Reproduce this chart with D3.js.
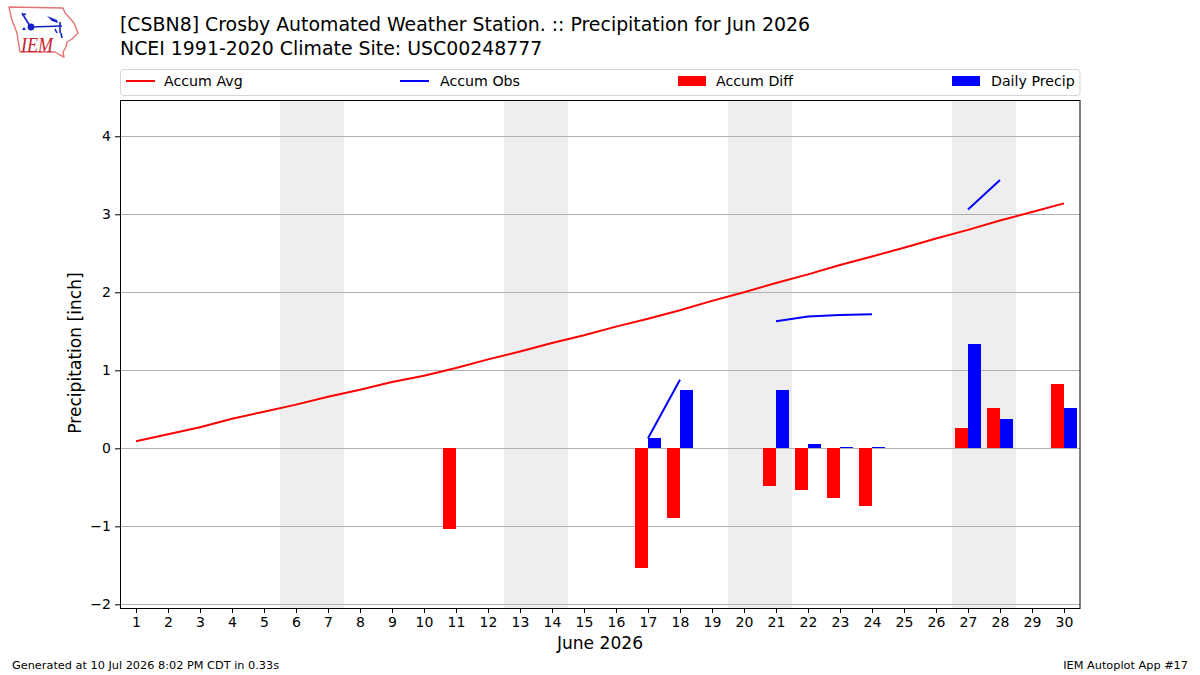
<!DOCTYPE html>
<html>
<head>
<meta charset="utf-8">
<script src="https://cdnjs.cloudflare.com/ajax/libs/d3/7.8.5/d3.min.js"></script>
<style>
html, body { margin: 0; padding: 0; background: #fff; }
svg { display: block; }
text { font-family: "DejaVu Sans", sans-serif; fill: #000; }
</style>
</head>
<body>
<svg id="chart" width="1200" height="675"></svg>
<script>
// Daily precipitation summary for one station and month.
const days = d3.range(1, 31);
const accumAvg = [0.09, 0.18, 0.27, 0.38, 0.47, 0.56, 0.66, 0.75, 0.85, 0.93,
  1.03, 1.14, 1.24, 1.35, 1.45, 1.56, 1.66, 1.77, 1.89, 2.00,
  2.12, 2.23, 2.35, 2.46, 2.57, 2.69, 2.80, 2.92, 3.03, 3.14];
const accumObs = [null, null, null, null, null, null, null, null, null, null,
  null, null, null, null, null, null, 0.13, 0.88, null, null,
  1.63, 1.69, 1.71, 1.72, null, null, 3.06, 3.44, null, 3.96];
const accumDiff = [0, 0, 0, 0, 0, 0, 0, 0, 0, 0,
  -1.03, 0, 0, 0, 0, 0, -1.53, -0.89, 0, 0,
  -0.48, -0.54, -0.64, -0.74, 0, 0, 0.26, 0.52, 0, 0.82];
const dailyPrecip = [0, 0, 0, 0, 0, 0, 0, 0, 0, 0,
  0, 0, 0, 0, 0, 0, 0.13, 0.75, 0, 0,
  0.75, 0.05, 0.01, 0.01, 0, 0, 1.34, 0.38, 0, 0.52];
const weekendSpans = [[5.5, 7.5], [12.5, 14.5], [19.5, 21.5], [26.5, 28.5]];
const yTicks = [-2, -1, 0, 1, 2, 3, 4];
const titleLines = ["[CSBN8] Crosby Automated Weather Station. :: Precipitation for Jun 2026",
  "NCEI 1991-2020 Climate Site: USC00248777"];

const svg = d3.select("#chart");
const frame = { left: 120, right: 1080, top: 100, bottom: 608 };
const x = d3.scaleLinear().domain([0.5, 30.5]).range([frame.left, frame.right]);
const y = d3.scaleLinear().domain([-2.047, 4.465]).range([frame.bottom, frame.top]);
const barWidth = 0.4;

// Weekend shading
svg.append("g").selectAll("rect").data(weekendSpans).join("rect")
  .attr("x", d => x(d[0])).attr("width", d => x(d[1]) - x(d[0]))
  .attr("y", frame.top).attr("height", frame.bottom - frame.top)
  .attr("fill", "#eeeeee");

// Horizontal grid
svg.append("g").selectAll("line").data(yTicks).join("line")
  .attr("x1", frame.left).attr("x2", frame.right)
  .attr("y1", d => Math.floor(y(d)) + 0.5).attr("y2", d => Math.floor(y(d)) + 0.5)
  .attr("stroke", "#b0b0b0").attr("stroke-width", 1);

// Paired daily bars, with the difference left of the tick and the daily total right of it.
// Edges snap to whole pixels, and trace amounts keep a one pixel height.
const barRows = days.map((d, i) => ({ day: d, diff: accumDiff[i], daily: dailyPrecip[i] }));
const baseRow = Math.floor(y(0));
svg.append("g").attr("shape-rendering", "crispEdges")
  .selectAll("rect").data(barRows.filter(d => d.diff !== 0)).join("rect")
  .attr("x", d => x(d.day - barWidth)).attr("width", x(barWidth) - x(0))
  .attr("y", d => y(Math.max(0, d.diff))).attr("height", d => Math.abs(y(d.diff) - y(0)))
  .attr("fill", "#ff0000");
svg.append("g").attr("shape-rendering", "crispEdges")
  .selectAll("rect").data(barRows.filter(d => d.daily !== 0)).join("rect")
  .attr("x", d => x(d.day)).attr("width", x(barWidth) - x(0))
  .attr("y", d => Math.min(Math.round(y(d.daily)), baseRow - 1))
  .attr("height", d => baseRow - Math.min(Math.round(y(d.daily)), baseRow - 1))
  .attr("fill", "#0000ff");

// Accumulation lines; missing observations break the blue line
const line = d3.line().defined(d => d[1] !== null).x(d => x(d[0])).y(d => y(d[1]));
svg.append("path").attr("d", line(days.map((d, i) => [d, accumAvg[i]])))
  .attr("fill", "none").attr("stroke", "#ff0000").attr("stroke-width", 2).attr("stroke-linejoin", "round");
svg.append("path").attr("d", line(days.map((d, i) => [d, accumObs[i]])))
  .attr("fill", "none").attr("stroke", "#0000ff").attr("stroke-width", 2).attr("stroke-linejoin", "round");

// Axes
const xAxis = d3.axisBottom(x).tickValues(days).tickFormat(d3.format("d")).tickSize(5).tickPadding(4);
const yAxis = d3.axisLeft(y).tickValues(yTicks).tickSize(5).tickPadding(4)
  .tickFormat(d => d < 0 ? "\u2212" + Math.abs(d) : String(d));
const gx = svg.append("g").attr("transform", `translate(0,${frame.bottom})`).call(xAxis);
const gy = svg.append("g").attr("transform", `translate(${frame.left},0)`).call(yAxis);
[gx, gy].forEach(g => {
  g.select(".domain").remove();
  g.selectAll("line").attr("stroke", "#000").attr("stroke-width", 1);
  g.selectAll("text").style("font-family", '"DejaVu Sans", sans-serif').style("font-size", "14px");
});

svg.append("rect")
  .attr("x", frame.left + 0.5).attr("y", frame.top + 0.5)
  .attr("width", frame.right - frame.left - 0.5).attr("height", frame.bottom - frame.top)
  .attr("fill", "none").attr("stroke", "#000").attr("stroke-width", 1);

// Titles and axis labels
svg.append("g").selectAll("text").data(titleLines).join("text")
  .attr("x", 120).attr("y", (d, i) => 31 + i * 23.5)
  .style("font-size", "18.9px").text(d => d);
svg.append("text").attr("x", 600).attr("y", 649).attr("text-anchor", "middle")
  .style("font-size", "17.1px").text("June 2026");
svg.append("text").attr("transform", "translate(81,353) rotate(-90)").attr("text-anchor", "middle")
  .style("font-size", "17.1px").text("Precipitation [inch]");

// Legend
const legend = svg.append("g");
legend.append("rect").attr("x", 120.5).attr("y", 69.5).attr("width", 959.5).attr("height", 26)
  .attr("rx", 3).attr("fill", "#fff").attr("stroke", "#d5d5d5").attr("stroke-width", 1);
const legendItems = [
  { label: "Accum Avg", color: "#ff0000", kind: "line", at: 126, textAt: 164 },
  { label: "Accum Obs", color: "#0000ff", kind: "line", at: 400, textAt: 440 },
  { label: "Accum Diff", color: "#ff0000", kind: "patch", at: 678, textAt: 716 },
  { label: "Daily Precip", color: "#0000ff", kind: "patch", at: 952, textAt: 991 }
];
legendItems.forEach(item => {
  if (item.kind === "line") {
    legend.append("line").attr("x1", item.at).attr("x2", item.at + 29)
      .attr("y1", 81).attr("y2", 81).attr("stroke", item.color).attr("stroke-width", 2);
  } else {
    legend.append("rect").attr("x", item.at).attr("y", 76).attr("width", 28).attr("height", 10)
      .attr("fill", item.color);
  }
  legend.append("text").attr("x", item.textAt).attr("y", 86)
    .style("font-size", "14.2px").text(item.label);
});

// Footer notes
svg.append("text").attr("x", 12).attr("y", 669).style("font-size", "11.3px")
  .text("Generated at 10 Jul 2026 8:02 PM CDT in 0.33s");
svg.append("text").attr("x", 1188).attr("y", 669).attr("text-anchor", "end").style("font-size", "11.3px")
  .text("IEM Autoplot App #17");

// Network logo: state outline, station glyph and wordmark
const logo = svg.append("g");
logo.append("path")
  .attr("d", "M9,7 L63,8 L65,13 L68,16 L74,23 L78,33 L72,39 L67,42 L66,47 L63,52 L64,57 L60,55 L55,52 L20,52 L18,40 L17,33 L12,20 Z")
  .attr("fill", "#fff").attr("stroke", "#e47474").attr("stroke-width", 1.4).attr("stroke-linejoin", "round");
logo.append("path")
  .attr("d", "M22,13 L25,18 L30,26 M22,15 L26,14 M31,27 L62,26 M60,22 L60,33 M55,29 L57,33 M61,33 L62,38")
  .attr("fill", "none").attr("stroke", "#1420c8").attr("stroke-width", 1.6);
logo.append("circle").attr("cx", 31).attr("cy", 27).attr("r", 3.4).attr("fill", "#1420c8");
logo.append("path").attr("d", "M47,16 L57,20 L58,23 L52,21 Z").attr("fill", "#1420c8");
logo.append("path").attr("d", "M24,27 L26,30 L22,30 Z").attr("fill", "#1420c8");
logo.append("text").attr("x", 21).attr("y", 52)
  .attr("textLength", 32).attr("lengthAdjust", "spacingAndGlyphs")
  .style("font-family", '"Liberation Serif", serif').style("font-style", "italic")
  .style("font-size", "21px").style("fill", "#c8202a").text("IEM");
</script>
</body>
</html>
